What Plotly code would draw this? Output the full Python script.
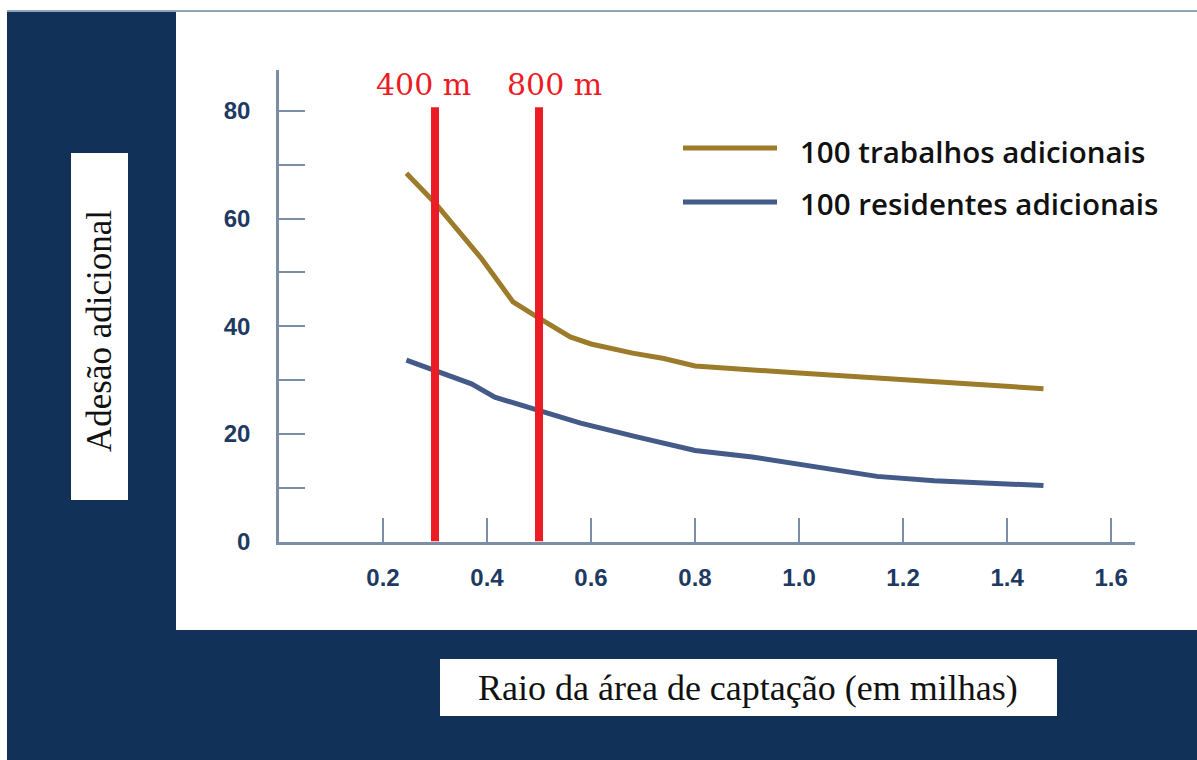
import plotly.graph_objects as go

W, H = 1197, 760

# ---- data ----
jobs_x = [0.245, 0.30, 0.39, 0.45, 0.50, 0.56, 0.60, 0.68, 0.74, 0.80, 1.00, 1.20, 1.40, 1.47]
jobs_y = [68.4, 62.9, 52.5, 44.5, 41.5, 38.0, 36.7, 35.0, 34.0, 32.6, 31.3, 30.1, 29.0, 28.4]

res_x = [0.245, 0.30, 0.37, 0.415, 0.50, 0.58, 0.69, 0.80, 0.91, 1.00, 1.15, 1.26, 1.40, 1.47]
res_y = [33.7, 31.8, 29.3, 26.8, 24.4, 22.0, 19.4, 16.9, 15.7, 14.3, 12.1, 11.3, 10.8, 10.4]

series_names = ["100 trabalhos adicionais", "100 residentes adicionais"]

marker_x = [0.3, 0.5]
marker_labels = ["400 m", "800 m"]
marker_top = 80.7

x_ticks = [0.2, 0.4, 0.6, 0.8, 1.0, 1.2, 1.4, 1.6]
x_ticktext = ["0.2", "0.4", "0.6", "0.8", "1.0", "1.2", "1.4", "1.6"]
y_ticks = [0, 20, 40, 60, 80]
y_minor_ticks = [10, 30, 50, 70]

x_title = "Raio da área de captação (em milhas)"
y_title = "Adesão adicional"

# ---- style ----
GOLD = "#9c7b2b"
BLUE = "#445a88"
RED = "#ec1c24"
NAVY = "#123158"
AXIS = "#7c8da6"
TICKFONT = dict(family="Liberation Sans, Arial, sans-serif",
                size=24, color="#1e3a62", weight="bold")


def px(x):
    return x / W


def py(y):
    return 1 - y / H


fig = go.Figure()
fig.add_trace(go.Scatter(x=jobs_x, y=jobs_y, mode="lines", name=series_names[0],
                         line=dict(color=GOLD, width=5), showlegend=False))
fig.add_trace(go.Scatter(x=res_x, y=res_y, mode="lines", name=series_names[1],
                         line=dict(color=BLUE, width=5), showlegend=False))
for mx in marker_x:
    fig.add_trace(go.Scatter(x=[mx, mx], y=[0, marker_top], mode="lines",
                             line=dict(color=RED, width=8), showlegend=False, hoverinfo="skip"))

shapes = [
    # navy frame
    dict(type="rect", xref="paper", yref="paper", x0=px(7), x1=px(W + 2), y0=py(H + 2), y1=py(11),
         fillcolor=NAVY, line=dict(width=0), layer="below"),
    # white chart panel
    dict(type="rect", xref="paper", yref="paper", x0=px(176), x1=px(W + 2), y0=py(630), y1=py(12),
         fillcolor="white", line=dict(width=0), layer="below"),
    # top thin border
    dict(type="line", xref="paper", yref="paper", x0=px(7), x1=px(W + 2), y0=py(11), y1=py(11),
         line=dict(color="#8fa3bb", width=2), layer="below"),
    # y title box
    dict(type="rect", xref="paper", yref="paper", x0=px(71), x1=px(128), y0=py(500), y1=py(153),
         fillcolor="white", line=dict(width=0), layer="below"),
    # x title box
    dict(type="rect", xref="paper", yref="paper", x0=px(440), x1=px(1057), y0=py(716), y1=py(659),
         fillcolor="white", line=dict(width=0), layer="below"),
    # legend lines
    dict(type="line", xref="paper", yref="paper", x0=px(683), x1=px(777), y0=py(148), y1=py(148),
         line=dict(color=GOLD, width=5)),
    dict(type="line", xref="paper", yref="paper", x0=px(683), x1=px(777), y0=py(202), y1=py(202),
         line=dict(color=BLUE, width=5)),
]

LEGFONT = dict(family="Open Sans, sans-serif", size=29.5, color="#111111", weight=600)
annotations = [
    dict(text=series_names[0], xref="paper", yref="paper", x=px(798), y=py(151), xanchor="left",
         yanchor="middle", showarrow=False, font=LEGFONT),
    dict(text=series_names[1], xref="paper", yref="paper", x=px(798), y=py(203), xanchor="left",
         yanchor="middle", showarrow=False, font=LEGFONT),
    dict(text=y_title, xref="paper", yref="paper", x=px(99), y=py(331), textangle=-90,
         xanchor="center", yanchor="middle", showarrow=False,
         font=dict(family="Liberation Serif, Times New Roman, serif", size=35, color="#111111")),
    dict(text=x_title, xref="paper", yref="paper", x=px(748), y=py(688),
         xanchor="center", yanchor="middle", showarrow=False,
         font=dict(family="Liberation Serif, Times New Roman, serif", size=36, color="#111111")),
]
for mx, lab, shift in zip(marker_x, marker_labels, [-12, 15]):
    annotations.append(dict(text=lab, x=mx, xref="x", yref="paper", y=py(84), xshift=shift,
                            xanchor="center", yanchor="middle", showarrow=False,
                            font=dict(family="DejaVu Serif, serif", size=30, color=RED)))

fig.update_layout(
    width=W, height=H, autosize=False,
    margin=dict(l=0, r=0, t=0, b=0, pad=0, autoexpand=False),
    paper_bgcolor="white", plot_bgcolor="rgba(0,0,0,0)",
    shapes=shapes, annotations=annotations, showlegend=False,
    xaxis=dict(domain=[px(279), px(1135)], range=[0, 1.646], showgrid=False, zeroline=False,
               showline=True, linecolor=AXIS, linewidth=2.5, automargin=False,
               tickmode="array", tickvals=x_ticks, ticktext=x_ticktext,
               ticks="inside", ticklen=24, tickwidth=2, tickcolor=AXIS,
               tickfont=TICKFONT, ticklabelstandoff=13, fixedrange=True),
    yaxis=dict(domain=[py(541.5), py(70)], range=[0, 87.6], showgrid=False, zeroline=False,
               showline=True, linecolor=AXIS, linewidth=2.5, automargin=False,
               tickmode="array", tickvals=y_ticks,
               ticks="inside", ticklen=26, tickwidth=2, tickcolor=AXIS,
               minor=dict(tickmode="array", tickvals=y_minor_ticks, ticks="inside",
                          ticklen=26, tickwidth=2, tickcolor=AXIS),
               tickfont=TICKFONT, ticklabelstandoff=21, fixedrange=True),
)

post = (
    "document.documentElement.style.margin='0';"
    "document.body.style.margin='0';"
    "document.documentElement.style.overflow='hidden';"
    "document.body.style.overflow='hidden';"
)
fig.write_html("out.html", config={"displayModeBar": False}, post_script=post)
